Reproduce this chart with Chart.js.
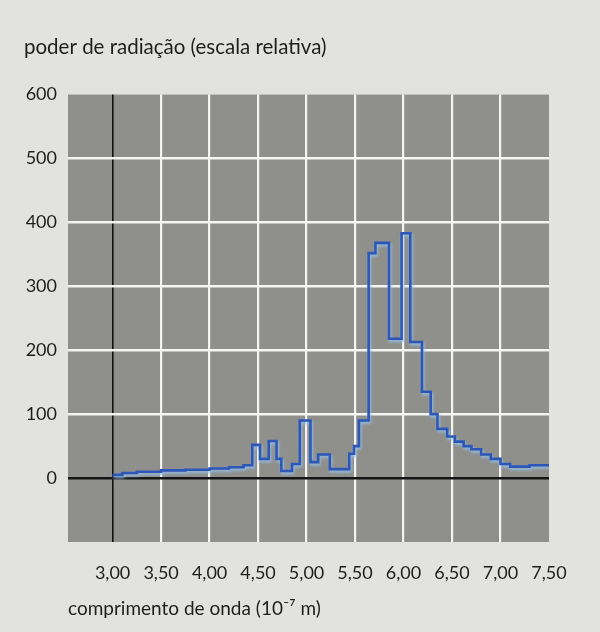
<!DOCTYPE html>
<html>
<head>
<meta charset="utf-8">
<script src="https://cdn.jsdelivr.net/npm/chart.js@4/dist/chart.umd.min.js"></script>
<style>
  html, body { margin: 0; padding: 0; background: #e2e3de; }
  #wrap { width: 600px; height: 632px; }
</style>
</head>
<body>
<div id="wrap"><canvas id="c" width="600" height="632"></canvas></div>
<script>
// wavelength (10^-7 m) where each step starts, and relative radiation power on that step
const wavelengths = [3.00, 3.10, 3.25, 3.50, 3.75, 4.00, 4.20, 4.35, 4.44, 4.52, 4.61, 4.69, 4.74, 4.85, 4.93, 5.04, 5.12, 5.24, 5.44, 5.49, 5.54, 5.64, 5.71, 5.85, 5.98, 6.07, 6.19, 6.28, 6.35, 6.45, 6.53, 6.62, 6.70, 6.80, 6.90, 7.00, 7.10, 7.30, 7.50];
const power = [5, 8, 10, 12, 13, 15, 17, 20, 52, 30, 58, 30, 11, 22, 90, 25, 37, 14, 38, 50, 90, 352, 368, 218, 383, 213, 135, 100, 77, 65, 57, 50, 45, 37, 30, 22, 18, 20, 20];
const xTicks = [3.00, 3.50, 4.00, 4.50, 5.00, 5.50, 6.00, 6.50, 7.00, 7.50];
const yTicks = [0, 100, 200, 300, 400, 500, 600];

const yTitle = 'poder de radiação (escala relativa)';
const xTitle = 'comprimento de onda (10\u207B\u2077 m)';

const FONT = 'Lato, "Open Sans", sans-serif';
const TEXT = '#1e1e1e';

const plotBg = {
  id: 'plotBg',
  beforeDraw(chart) {
    const {ctx, chartArea: a} = chart;
    ctx.save();
    ctx.fillStyle = '#8f8f8b';
    ctx.fillRect(a.left, a.top, a.right - a.left, a.bottom - a.top);
    ctx.restore();
  }
};
const halo = {
  id: 'halo',
  beforeDatasetDraw(chart) {
    const ctx = chart.ctx;
    ctx.save();
    ctx.shadowColor = 'rgba(150,195,235,0.95)';
    ctx.shadowBlur = 3;
    ctx.shadowOffsetX = 1;
    ctx.shadowOffsetY = 2;
  },
  afterDatasetDraw(chart) { chart.ctx.restore(); }
};

new Chart(document.getElementById('c'), {
  type: 'line',
  data: {
    datasets: [{
      data: wavelengths.map((w, i) => ({x: w, y: power[i]})),
      stepped: 'before',
      borderColor: '#2c57b8',
      borderWidth: 2.6,
      pointRadius: 0,
      fill: false
    }]
  },
  options: {
    responsive: false,
    devicePixelRatio: 1,
    animation: false,
    layout: { padding: { left: 24, right: 51, top: 0, bottom: 0 } },
    plugins: {
      legend: { display: false },
      tooltip: { enabled: false },
      title: {
        display: true,
        text: yTitle,
        align: 'start',
        color: TEXT,
        font: { family: FONT, size: 20.5, weight: 'normal' },
        padding: { top: 35, bottom: 35 }
      }
    },
    scales: {
      x: {
        type: 'linear',
        min: 2.54,
        max: 7.5,
        afterBuildTicks: s => { s.ticks = [2.54, ...xTicks].map(v => ({value: v})); },
        afterFit: s => { s.height = 90; },
        border: { display: false },
        grid: {
          drawTicks: false,
          color: c => {
            const v = c.tick ? c.tick.value : null;
            if (v === 3) return '#111';
            if (v === 2.54 || v === 7.5) return 'rgba(0,0,0,0)';
            return '#f4f4f2';
          },
          lineWidth: c => (c.tick && c.tick.value === 3) ? 1.6 : 2.2
        },
        ticks: {
          padding: 20,
          color: TEXT,
          font: { family: FONT, size: 18 },
          maxRotation: 0,
          autoSkip: false,
          callback: v => (v === 2.54 ? '' : v.toFixed(2).replace('.', ','))
        },
        title: {
          display: true,
          text: xTitle,
          align: 'start',
          color: TEXT,
          font: { family: FONT, size: 19 },
          padding: { top: 0, bottom: 12 }
        }
      },
      y: {
        min: -100,
        max: 600,
        afterBuildTicks: s => { s.ticks = [-100, ...yTicks].map(v => ({value: v})); },
        afterFit: s => { s.width = 44; },
        border: { display: false },
        grid: {
          drawTicks: false,
          color: c => {
            const v = c.tick ? c.tick.value : null;
            if (v === 0) return '#151515';
            if (v === -100 || v === 600) return 'rgba(0,0,0,0)';
            return '#f4f4f2';
          },
          lineWidth: 2.4
        },
        ticks: {
          padding: 11,
          color: TEXT,
          font: { family: FONT, size: 18 },
          callback: v => (v === -100 ? '' : String(v))
        }
      }
    }
  },
  plugins: [plotBg, halo]
});
</script>
</body>
</html>
